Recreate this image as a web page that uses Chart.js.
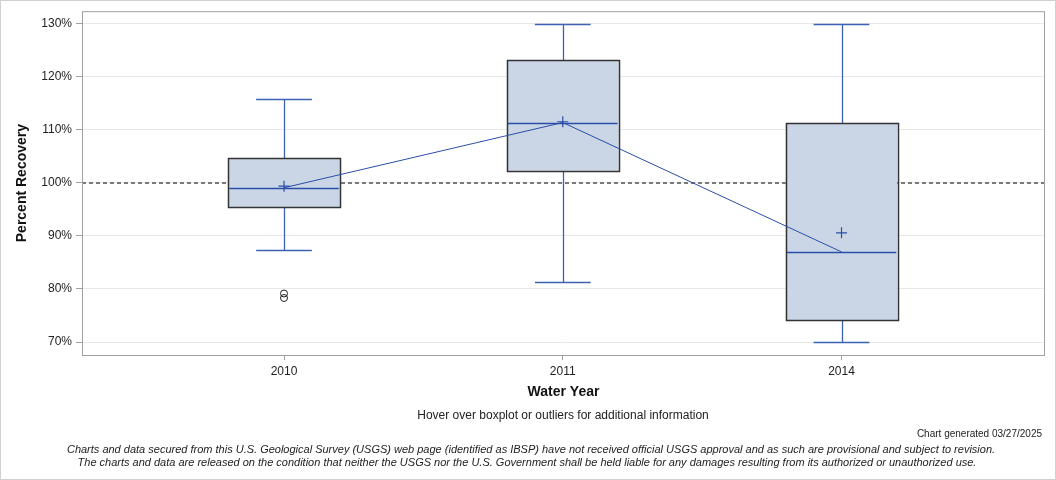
<!DOCTYPE html>
<html><head><meta charset="utf-8">
<script src="https://cdn.jsdelivr.net/npm/chart.js@4.4.1/dist/chart.umd.min.js"></script>
<style>
html,body{margin:0;padding:0;background:#fff;}
#wrap{position:relative;width:1056px;height:480px;overflow:hidden;}
canvas{position:absolute;left:0;top:0;}
</style></head><body>
<div id="wrap"><canvas id="c" width="1056" height="480"></canvas></div>
<script>
// ---- data ----
const years = ['2010', '2011', '2014'];
const whiskerLow  = [87.3, 81.3, 70.0];
const q1          = [95.4, 102.3, 74.15];
const median      = [99.1, 111.4, 87.0];
const q3          = [104.7, 123.15, 111.3];
const whiskerHigh = [115.8, 130.0, 130.0];
const means       = [99.4, 111.55, 90.6];
const outlierYear = [0, 0];
const outlierVal  = [79.15, 78.3];
const yTicks = [70, 80, 90, 100, 110, 120, 130];
const refValue = 100;

const FONT = '"Liberation Sans", Arial, Helvetica, sans-serif';
const BLUE = '#2a4ea6';
const WHISK = '#3d62b3';

const boxPlugin = {
  id: 'boxes',
  beforeDatasetsDraw(chart) {
    const {ctx, chartArea: a, scales: {x, y}} = chart;
    ctx.save();
    ctx.beginPath(); ctx.rect(a.left, a.top, a.right - a.left, a.bottom - a.top); ctx.clip();
    // reference line
    const ry = Math.round(y.getPixelForValue(refValue));
    ctx.strokeStyle = '#7a7a7a'; ctx.lineWidth = 2; ctx.setLineDash([4, 3]);
    ctx.beginPath(); ctx.moveTo(a.left, ry); ctx.lineTo(a.right, ry); ctx.stroke();
    ctx.setLineDash([]);
    years.forEach((yr, i) => {
      const cx = Math.round(x.getPixelForValue(i)) + 0.5;
      const bl = x.getPixelForValue(i - 0.2), br = x.getPixelForValue(i + 0.2);
      const cl = x.getPixelForValue(i - 0.1), cr = x.getPixelForValue(i + 0.1);
      const yq1 = y.getPixelForValue(q1[i]), yq3 = y.getPixelForValue(q3[i]);
      const ywl = Math.round(y.getPixelForValue(whiskerLow[i])) + 0.5;
      const ywh = Math.round(y.getPixelForValue(whiskerHigh[i])) + 0.5;
      const ym = Math.round(y.getPixelForValue(median[i])) + 0.5;
      // whiskers
      ctx.strokeStyle = WHISK; ctx.lineWidth = 1.3;
      ctx.beginPath();
      ctx.moveTo(cx, yq3); ctx.lineTo(cx, ywh);
      ctx.moveTo(cx, yq1); ctx.lineTo(cx, ywl);
      ctx.moveTo(cl, ywh); ctx.lineTo(cr, ywh);
      ctx.moveTo(cl, ywl); ctx.lineTo(cr, ywl);
      ctx.stroke();
      // box
      ctx.fillStyle = '#cad6e6';
      ctx.fillRect(bl, yq3, br - bl, yq1 - yq3);
      ctx.strokeStyle = '#333333'; ctx.lineWidth = 1.5;
      ctx.strokeRect(Math.round(bl) + 0.5, Math.round(yq3) + 0.5, Math.round(br - bl), Math.round(yq1 - yq3));
      // median
      ctx.strokeStyle = BLUE; ctx.lineWidth = 1.5;
      ctx.beginPath(); ctx.moveTo(bl + 1, ym); ctx.lineTo(br - 1, ym); ctx.stroke();
    });
    ctx.restore();
  },
  afterDraw(chart) {
    const {ctx, chartArea: a} = chart;
    ctx.save();
    // plot frame
    ctx.strokeStyle = '#a0a0a0'; ctx.lineWidth = 1;
    ctx.strokeRect(a.left + 0.5, a.top + 0.5, a.right - a.left - 1, a.bottom - a.top);
    // outer border
    ctx.strokeStyle = '#d0d0d0';
    ctx.strokeRect(0.5, 0.5, 1055, 479);
    // footer texts
    ctx.fillStyle = '#222'; ctx.textBaseline = 'middle';
    ctx.textAlign = 'center';
    ctx.font = '12px ' + FONT;
    ctx.fillText('Hover over boxplot or outliers for additional information', 563, 416);
    ctx.textAlign = 'right';
    ctx.font = '10px ' + FONT;
    ctx.fillText('Chart generated 03/27/2025', 1042, 434);
    ctx.textAlign = 'center';
    ctx.font = 'italic 11px ' + FONT;
    ctx.fillText('Charts and data secured from this U.S. Geological Survey (USGS) web page (identified as IBSP) have not received official USGS approval and as such are provisional and subject to revision.', 531, 450);
    ctx.fillText('The charts and data are released on the condition that neither the USGS nor the U.S. Government shall be held liable for any damages resulting from its authorized or unauthorized use.', 527, 463);
    ctx.restore();
  }
};

new Chart(document.getElementById('c'), {
  data: {
    datasets: [
      {
        type: 'line',
        data: median.map((v, i) => ({x: i, y: v})),
        borderColor: BLUE, borderWidth: 1, pointRadius: 0, fill: false, tension: 0, order: 3
      },
      {
        type: 'scatter',
        data: means.map((v, i) => ({x: i, y: v})),
        pointStyle: 'cross', pointRadius: 5.5, borderColor: BLUE, borderWidth: 1.2, order: 2
      },
      {
        type: 'scatter',
        data: outlierVal.map((v, i) => ({x: outlierYear[i], y: v})),
        pointStyle: 'circle', pointRadius: 3.5, borderColor: '#222', backgroundColor: 'rgba(0,0,0,0)', borderWidth: 1, order: 1
      }
    ]
  },
  options: {
    responsive: false, animation: false, devicePixelRatio: 1,
    layout: {padding: {left: 0, top: 11, right: 11, bottom: 79}},
    plugins: {legend: {display: false}, tooltip: {enabled: false}},
    scales: {
      x: {
        type: 'linear', min: -0.7247, max: 2.73,
        afterBuildTicks: s => { s.ticks = years.map((_, i) => ({value: i})); },
        afterFit: s => { s.height = 46; },
        ticks: {callback: v => years[v], font: {size: 12, family: FONT}, color: '#222', padding: 4, maxRotation: 0, autoSkip: false},
        grid: {drawOnChartArea: false, drawTicks: true, tickLength: 5, color: '#a0a0a0'},
        border: {display: false},
        title: {display: true, text: 'Water Year', font: {size: 14, weight: 'bold', family: FONT}, color: '#111', padding: {top: 4, bottom: 0}}
      },
      y: {
        type: 'linear', min: 67.55, max: 132.4,
        afterBuildTicks: s => { s.ticks = yTicks.map(v => ({value: v})); },
        afterFit: s => { s.width = 82; },
        ticks: {callback: v => v + '%', font: {size: 12, family: FONT}, color: '#222', padding: 4},
        grid: {color: '#e8e8e8', lineWidth: 1, drawTicks: true, tickLength: 6, tickColor: '#a0a0a0'},
        border: {display: false},
        title: {display: true, text: 'Percent Recovery', font: {size: 14, weight: 'bold', family: FONT}, color: '#111', padding: {top: 14, bottom: 0}}
      }
    }
  },
  plugins: [boxPlugin]
});
</script>
</body></html>
